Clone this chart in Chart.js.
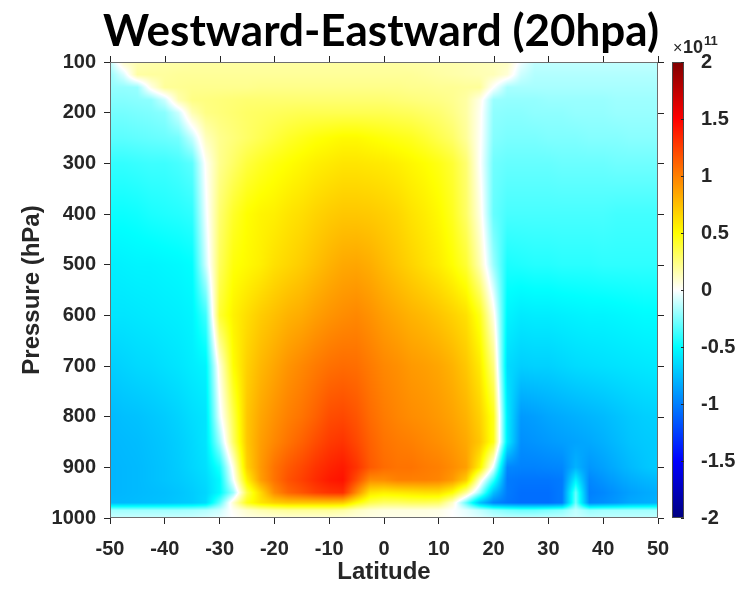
<!DOCTYPE html>
<html>
<head>
<meta charset="utf-8">
<script src="https://cdn.jsdelivr.net/npm/chart.js@4.4.1/dist/chart.umd.min.js"></script>
<style>
  html, body { margin: 0; padding: 0; background: #ffffff; }
  #wrap { width: 746px; height: 592px; }
</style>
</head>
<body>
<div id="wrap"><canvas id="chart" width="746" height="592"></canvas></div>
<script>
// Grid of the zonal flux section: columns are latitudes, rows are pressure levels.
const latitudes = [
  -50, -47.5, -45, -42.5, -40, -37.5, -35, -32.5, -30, -27.5,
  -25, -22.5, -20, -17.5, -15, -12.5, -10, -7.5, -5, -2.5,
  0, 2.5, 5, 7.5, 10, 12.5, 15, 17.5, 20, 22.5,
  25, 27.5, 30, 32.5, 35, 37.5, 40, 42.5, 45, 47.5, 50
];
const pressureLevels = [100, 125, 150, 175, 200, 250, 300, 400, 500, 600, 700, 800, 850, 900, 925, 950, 970, 985, 1000];

// Flux values in units of 1e11, one row per pressure level.
const flux = [
  [-0.12,0.11,0.15,0.16,0.17,0.17,0.18,0.18,0.18,0.18, 0.18,0.18,0.18,0.18,0.18,0.18,0.18,0.18,0.18,0.18, 0.18,0.18,0.17,0.17,0.16,0.16,0.15,0.14,0.13,0.12, -0.03,-0.12,-0.12,-0.12,-0.12,-0.12,-0.12,-0.12,-0.12,-0.12, -0.12],
  [-0.20,-0.07,0.18,0.19,0.19,0.20,0.20,0.20,0.20,0.20, 0.20,0.20,0.20,0.20,0.20,0.20,0.20,0.20,0.20,0.20, 0.20,0.20,0.20,0.19,0.18,0.17,0.16,0.15,0.14,0.08, -0.10,-0.15,-0.15,-0.15,-0.15,-0.15,-0.15,-0.15,-0.15,-0.15, -0.15],
  [-0.21,-0.21,-0.20,0.05,0.20,0.21,0.22,0.22,0.22,0.22, 0.22,0.23,0.23,0.23,0.23,0.23,0.23,0.23,0.23,0.23, 0.23,0.23,0.22,0.22,0.21,0.21,0.20,0.20,0.00,-0.17, -0.17,-0.17,-0.17,-0.17,-0.17,-0.17,-0.17,-0.17,-0.17,-0.17, -0.17],
  [-0.24,-0.24,-0.23,-0.22,-0.10,0.15,0.24,0.25,0.26,0.27, 0.28,0.28,0.28,0.28,0.28,0.28,0.28,0.28,0.28,0.28, 0.28,0.27,0.26,0.25,0.24,0.22,0.18,0.05,-0.20,-0.21, -0.21,-0.21,-0.20,-0.20,-0.20,-0.20,-0.20,-0.19,-0.19,-0.19, -0.19],
  [-0.27,-0.27,-0.26,-0.25,-0.23,-0.10,0.15,0.24,0.26,0.28, 0.30,0.31,0.32,0.33,0.34,0.34,0.34,0.34,0.34,0.34, 0.34,0.33,0.32,0.30,0.28,0.24,0.18,0.03,-0.22,-0.23, -0.23,-0.22,-0.22,-0.22,-0.21,-0.21,-0.21,-0.20,-0.20,-0.20, -0.20],
  [-0.32,-0.32,-0.31,-0.30,-0.29,-0.27,-0.12,0.13,0.22,0.26, 0.30,0.34,0.38,0.42,0.45,0.48,0.50,0.52,0.52,0.50, 0.48,0.46,0.44,0.40,0.35,0.30,0.20,0.02,-0.24,-0.26, -0.26,-0.26,-0.25,-0.25,-0.25,-0.24,-0.24,-0.24,-0.23,-0.23, -0.23],
  [-0.40,-0.40,-0.39,-0.38,-0.38,-0.36,-0.32,0.02,0.22,0.30, 0.38,0.43,0.47,0.50,0.53,0.56,0.58,0.60,0.60,0.59, 0.58,0.56,0.53,0.50,0.46,0.40,0.28,0.01,-0.28,-0.30, -0.30,-0.30,-0.30,-0.29,-0.29,-0.29,-0.29,-0.28,-0.28,-0.28, -0.28],
  [-0.48,-0.48,-0.47,-0.45,-0.44,-0.43,-0.41,-0.03,0.28,0.42, 0.50,0.54,0.56,0.60,0.63,0.67,0.70,0.72,0.72,0.71, 0.69,0.66,0.61,0.57,0.52,0.44,0.30,0.06,-0.30,-0.36, -0.36,-0.36,-0.36,-0.36,-0.36,-0.36,-0.36,-0.37,-0.37,-0.37, -0.37],
  [-0.56,-0.55,-0.54,-0.54,-0.53,-0.52,-0.50,-0.10,0.32,0.48, 0.52,0.56,0.62,0.66,0.70,0.75,0.80,0.84,0.85,0.82, 0.77,0.72,0.67,0.62,0.57,0.50,0.40,0.15,-0.20,-0.45, -0.44,-0.43,-0.43,-0.42,-0.42,-0.42,-0.41,-0.41,-0.41,-0.41, -0.41],
  [-0.60,-0.60,-0.59,-0.58,-0.57,-0.56,-0.54,-0.38,0.40,0.55, 0.63,0.70,0.75,0.80,0.83,0.88,0.92,0.95,0.97,0.93, 0.88,0.84,0.80,0.77,0.73,0.68,0.62,0.45,0.05,-0.54, -0.58,-0.57,-0.57,-0.56,-0.55,-0.54,-0.54,-0.53,-0.52,-0.51, -0.51],
  [-0.69,-0.67,-0.65,-0.64,-0.62,-0.60,-0.57,-0.54,0.07,0.50, 0.68,0.78,0.85,0.92,0.97,1.02,1.06,1.08,1.07,1.02, 0.97,0.94,0.90,0.88,0.85,0.80,0.72,0.58,0.25,-0.64, -0.69,-0.68,-0.68,-0.66,-0.64,-0.63,-0.62,-0.61,-0.60,-0.59, -0.58],
  [-0.77,-0.75,-0.74,-0.72,-0.70,-0.67,-0.63,-0.60,-0.05,0.35, 0.72,0.85,0.93,1.00,1.05,1.12,1.20,1.22,1.17,1.08, 1.02,0.98,0.95,0.93,0.90,0.86,0.80,0.68,0.45,-0.58, -0.90,-0.88,-0.85,-0.83,-0.81,-0.79,-0.77,-0.74,-0.71,-0.69, -0.68],
  [-0.78,-0.77,-0.76,-0.74,-0.72,-0.69,-0.65,-0.60,-0.20,0.30, 0.72,0.88,0.97,1.05,1.12,1.20,1.27,1.30,1.22,1.12, 1.05,1.02,1.00,0.97,0.94,0.90,0.84,0.72,0.45,-0.58, -0.94,-0.92,-0.90,-0.88,-0.86,-0.84,-0.81,-0.77,-0.73,-0.71, -0.70],
  [-0.79,-0.78,-0.77,-0.75,-0.73,-0.70,-0.66,-0.62,-0.45,0.05, 0.68,0.90,1.05,1.15,1.22,1.30,1.36,1.40,1.30,1.15, 1.08,1.05,1.05,1.02,1.00,0.95,0.88,0.55,-0.05,-0.97, -0.99,-0.99,-0.98,-0.97,-0.80,-0.91,-0.87,-0.82,-0.77,-0.73, -0.70],
  [-0.79,-0.78,-0.77,-0.75,-0.73,-0.71,-0.68,-0.64,-0.52,-0.02, 0.55,0.88,1.05,1.18,1.25,1.33,1.40,1.43,1.20,0.95, 0.95,1.00,1.00,1.00,0.98,0.90,0.70,0.10,-0.40,-1.02, -1.04,-1.04,-1.04,-1.02,-0.55,-0.97,-0.92,-0.87,-0.82,-0.79, -0.77],
  [-0.79,-0.78,-0.77,-0.76,-0.75,-0.73,-0.70,-0.66,-0.52,-0.20, 0.35,0.65,0.95,1.10,1.17,1.25,1.30,1.32,0.95,0.60, 0.56,0.58,0.60,0.62,0.62,0.50,0.20,-0.20,-0.75,-1.02, -1.07,-1.07,-1.07,-1.02,-0.30,-1.00,-0.97,-0.92,-0.87,-0.84, -0.82],
  [-0.77,-0.77,-0.76,-0.75,-0.74,-0.72,-0.70,-0.64,-0.32,0.10, 0.45,0.60,0.68,0.72,0.72,0.72,0.72,0.70,0.50,0.35, 0.30,0.30,0.32,0.32,0.30,0.10,-0.30,-0.75,-0.98,-1.04, -1.07,-1.07,-1.07,-1.02,-0.28,-0.97,-0.94,-0.90,-0.84,-0.82, -0.80],
  [-0.18,-0.18,-0.18,-0.18,-0.18,-0.18,-0.17,-0.15,-0.10,0.02, 0.10,0.15,0.18,0.20,0.20,0.20,0.20,0.18,0.12,0.08, 0.06,0.06,0.06,0.06,0.05,0.00,-0.05,-0.12,-0.20,-0.25, -0.28,-0.28,-0.25,-0.22,-0.12,-0.20,-0.18,-0.18,-0.18,-0.18, -0.18],
  [-0.10,-0.10,-0.10,-0.10,-0.10,-0.10,-0.10,-0.08,-0.05,0.00, 0.05,0.06,0.07,0.08,0.08,0.08,0.08,0.07,0.06,0.05, 0.04,0.04,0.04,0.04,0.03,0.00,-0.03,-0.06,-0.10,-0.12, -0.12,-0.12,-0.12,-0.12,-0.10,-0.12,-0.12,-0.12,-0.12,-0.12, -0.12]
];

const latitudeTicks = [-50, -40, -30, -20, -10, 0, 10, 20, 30, 40, 50];
const pressureTicks = [100, 200, 300, 400, 500, 600, 700, 800, 900, 1000];
const colorbarTicks = [-2, -1.5, -1, -0.5, 0, 0.5, 1, 1.5, 2];
const colorbarLabels = ['-2', '-1.5', '-1', '-0.5', '0', '0.5', '1', '1.5', '2'];

const TITLE = 'Westward-Eastward (20hpa)';
const INK = '#262626';
const TICK_FONT = { family: 'Liberation Sans, Arial, sans-serif', size: 20, weight: 'bold' };
const AXIS_TITLE_FONT = { family: 'Liberation Sans, Arial, sans-serif', size: 24, weight: 'bold' };

// Jet-like diverging palette with white at zero.
const paletteStops = [
  [-2, [0, 0, 128]], [-1.5, [0, 0, 255]], [-1, [0, 128, 255]], [-0.5, [0, 255, 255]],
  [0, [255, 255, 255]],
  [0.5, [255, 255, 0]], [1, [255, 128, 0]], [1.5, [255, 0, 0]], [2, [128, 0, 0]]
];
function paletteColor(v) {
  if (v <= paletteStops[0][0]) return paletteStops[0][1];
  const last = paletteStops[paletteStops.length - 1];
  if (v >= last[0]) return last[1];
  for (let k = 0; k < paletteStops.length - 1; k++) {
    const [v0, c0] = paletteStops[k], [v1, c1] = paletteStops[k + 1];
    if (v <= v1) {
      const f = (v - v0) / (v1 - v0);
      return [c0[0] + (c1[0] - c0[0]) * f, c0[1] + (c1[1] - c0[1]) * f, c0[2] + (c1[2] - c0[2]) * f];
    }
  }
  return last[1];
}

// Find the grid interval containing v and the fractional position inside it.
function locate(nodes, v) {
  const n = nodes.length;
  if (v <= nodes[0]) return [0, 0];
  if (v >= nodes[n - 1]) return [n - 2, 1];
  let i = 0;
  while (nodes[i + 1] < v) i++;
  return [i, (v - nodes[i]) / (nodes[i + 1] - nodes[i])];
}

// Smoothly shaded field (bilinear between grid nodes), placed through the x/y scales.
const fieldShading = {
  id: 'fieldShading',
  beforeDatasetsDraw(chart) {
    const { ctx, chartArea: a, scales: { x, y } } = chart;
    const w = Math.round(a.right - a.left), h = Math.round(a.bottom - a.top);
    const off = document.createElement('canvas');
    off.width = w; off.height = h;
    const octx = off.getContext('2d');
    const img = octx.createImageData(w, h);
    const cols = [], rows = [];
    for (let px = 0; px < w; px++) cols.push(locate(latitudes, x.getValueForPixel(a.left + px + 0.5)));
    for (let py = 0; py < h; py++) rows.push(locate(pressureLevels, y.getValueForPixel(a.top + py + 0.5)));
    for (let py = 0; py < h; py++) {
      const [j, u] = rows[py];
      const r0 = flux[j], r1 = flux[j + 1];
      for (let px = 0; px < w; px++) {
        const [i, t] = cols[px];
        const top = r0[i] + (r0[i + 1] - r0[i]) * t;
        const bot = r1[i] + (r1[i + 1] - r1[i]) * t;
        const c = paletteColor(top + (bot - top) * u);
        const o = (py * w + px) * 4;
        img.data[o] = c[0]; img.data[o + 1] = c[1]; img.data[o + 2] = c[2]; img.data[o + 3] = 255;
      }
    }
    octx.putImageData(img, 0, 0);
    ctx.save();
    ctx.drawImage(off, a.left, a.top);
    ctx.restore();
  },
  afterDraw(chart) {
    const { ctx, chartArea: a, scales: { x, y, cb } } = chart;
    ctx.save();
    // frame of the plot box
    ctx.strokeStyle = '#6e6e6e';
    ctx.lineWidth = 1;
    ctx.strokeRect(a.left + 0.5, a.top + 0.5, a.right - a.left - 1, a.bottom - a.top - 1);
    // mirrored ticks on top and right edges
    ctx.strokeStyle = INK;
    ctx.beginPath();
    latitudeTicks.forEach(v => {
      const px = Math.round(x.getPixelForValue(v)) + 0.5;
      ctx.moveTo(px, a.top); ctx.lineTo(px, a.top - 6);
    });
    pressureTicks.forEach(v => {
      const py = Math.round(y.getPixelForValue(v)) + 0.5;
      ctx.moveTo(a.right, py); ctx.lineTo(a.right + 6, py);
    });
    ctx.stroke();

    // colour bar
    const bx0 = 672, bx1 = 684;
    const yTop = cb.getPixelForValue(2), yBot = cb.getPixelForValue(-2);
    for (let py = Math.floor(yTop); py < Math.ceil(yBot); py++) {
      const c = paletteColor(cb.getValueForPixel(py + 0.5));
      ctx.fillStyle = `rgb(${c[0] | 0},${c[1] | 0},${c[2] | 0})`;
      ctx.fillRect(bx0, py, bx1 - bx0, 1);
    }
    ctx.strokeStyle = '#4a4a4a';
    ctx.strokeRect(bx0 + 0.5, yTop + 0.5, bx1 - bx0 - 1, yBot - yTop - 1);
    ctx.strokeStyle = INK;
    ctx.beginPath();
    colorbarTicks.forEach(v => {
      const py = Math.round(cb.getPixelForValue(v)) + 0.5;
      ctx.moveTo(bx1 - 3, py); ctx.lineTo(bx1, py);
    });
    ctx.stroke();

    // exponent label above the colour bar
    ctx.fillStyle = INK;
    ctx.textBaseline = 'alphabetic';
    ctx.textAlign = 'left';
    ctx.font = '16px "Liberation Sans", Arial, sans-serif';
    ctx.fillText('\u00d7', 673, 53);
    ctx.font = 'bold 18px "Liberation Sans", Arial, sans-serif';
    ctx.fillText('10', 683, 53);
    ctx.font = 'bold 13px "Liberation Sans", Arial, sans-serif';
    ctx.fillText('11', 704, 45);

    // chart title
    ctx.fillStyle = '#000000';
    ctx.textAlign = 'center';
    ctx.font = 'bold 44px Lato, "Liberation Sans Narrow", sans-serif';
    ctx.fillText(TITLE, 381, 46);
    ctx.restore();
  }
};

const points = [];
pressureLevels.forEach((p, j) => latitudes.forEach((lat, i) => points.push({ x: lat, y: p, v: flux[j][i] })));

new Chart(document.getElementById('chart'), {
  type: 'scatter',
  data: {
    datasets: [{ label: 'flux', data: points, pointRadius: 0, pointHoverRadius: 0, showLine: false }]
  },
  options: {
    responsive: false,
    animation: false,
    devicePixelRatio: 1,
    events: [],
    layout: { padding: { top: 62, left: 0, right: 0, bottom: 0 } },
    plugins: { legend: { display: false }, tooltip: { enabled: false }, title: { display: false } },
    scales: {
      x: {
        type: 'linear', position: 'bottom', min: -50, max: 50,
        afterBuildTicks: s => { s.ticks = latitudeTicks.map(v => ({ value: v })); },
        afterFit: s => { s.height = 74; },
        ticks: { font: TICK_FONT, color: INK, padding: 13, maxRotation: 0, autoSkip: false, callback: v => String(v) },
        grid: { drawOnChartArea: false, drawTicks: true, tickLength: 6, color: INK, tickColor: INK, lineWidth: 1 },
        border: { display: false },
        title: { display: true, text: 'Latitude', font: AXIS_TITLE_FONT, color: INK, padding: { top: 0, bottom: 5 } }
      },
      y: {
        type: 'linear', position: 'left', reverse: true, min: 100, max: 1000,
        afterBuildTicks: s => { s.ticks = pressureTicks.map(v => ({ value: v })); },
        afterFit: s => { s.width = 110; },
        ticks: { font: TICK_FONT, color: INK, padding: 8, autoSkip: false, callback: v => String(v) },
        grid: { drawOnChartArea: false, drawTicks: true, tickLength: 6, color: INK, tickColor: INK, lineWidth: 1 },
        border: { display: false },
        title: { display: true, text: 'Pressure (hPa)', font: AXIS_TITLE_FONT, color: INK, padding: { top: 18, bottom: 0 } }
      },
      cb: {
        type: 'linear', position: 'right', min: -2, max: 2,
        afterBuildTicks: s => { s.ticks = colorbarTicks.map(v => ({ value: v })); },
        afterFit: s => { s.width = 88; },
        ticks: { font: TICK_FONT, color: INK, padding: 35, autoSkip: false,
                 callback: v => colorbarLabels[colorbarTicks.indexOf(v)] },
        grid: { display: false },
        border: { display: false }
      }
    }
  },
  plugins: [fieldShading]
});
</script>
</body>
</html>
